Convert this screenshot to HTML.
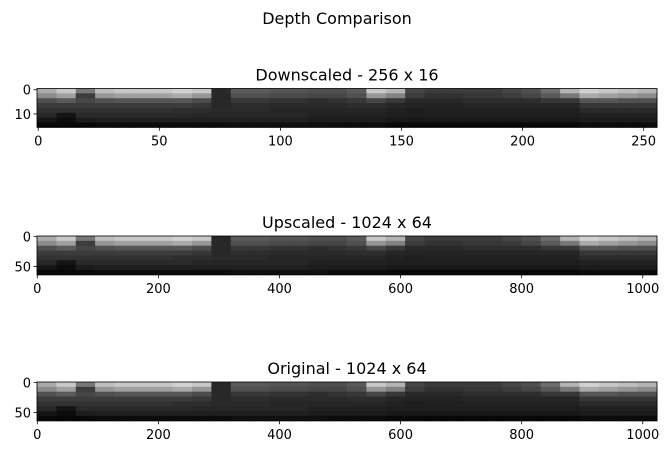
<!DOCTYPE html>
<html><head><meta charset="utf-8"><style>
body{margin:0;background:#fff;}
text{font-family:"DejaVu Sans","Liberation Sans",sans-serif;fill:#000;}
</style></head><body>
<svg id="fig" width="670" height="457" xmlns="http://www.w3.org/2000/svg">
<rect width="670" height="457" fill="#fff"/>
<text x="337" y="24" font-size="16" text-anchor="middle">Depth Comparison</text>
</svg>
<script>
const panelTitles = ["Downscaled - 256 x 16", "Upscaled - 1024 x 64", "Original - 1024 x 64"];
const panelWidths = [256, 1024, 1024];
const panelHeights = [16, 64, 64];
const xTicks1 = [0, 50, 100, 150, 200, 250];
const xTicks2 = [0, 200, 400, 600, 800, 1000];
const yTicks1 = [0, 10];
const yTicks2 = [0, 50];
const depthRows = [
[170,200,120,190,200,200,200,210,200,40,90,90,85,85,80,80,90,200,180,70,60,60,60,60,70,80,110,180,210,200,190,180],
[140,160,60,150,160,160,160,170,150,40,80,80,75,75,70,70,80,150,130,60,50,50,55,55,60,70,90,120,170,160,150,140],
[80,90,70,80,85,85,85,85,75,40,55,55,50,50,45,50,55,70,55,40,40,40,45,45,45,45,55,55,85,85,80,80],
[60,60,60,60,60,60,60,60,55,40,45,45,42,42,42,42,45,45,38,35,35,35,38,38,38,38,38,38,55,55,55,55],
[50,50,50,50,50,50,50,45,45,42,42,42,38,38,38,38,38,38,33,30,33,33,33,33,33,33,33,33,42,42,42,42],
[40,20,42,42,42,42,42,42,38,38,38,38,38,38,33,33,33,33,30,30,30,30,30,30,30,30,30,30,33,33,33,33],
[22,12,28,32,32,32,32,32,32,32,32,32,32,32,28,28,28,28,24,24,24,24,24,24,24,24,24,24,28,28,28,28],
[8,8,8,12,12,12,12,12,12,12,16,16,16,16,16,12,12,12,8,8,8,8,8,8,8,8,8,8,12,12,12,12]
];
const NS="http://www.w3.org/2000/svg";
const svg=document.getElementById('fig');
const axX0=37, axW=620, axH=38.75;
const axTops=[88.5,236,382];
function mk(t,a){const e=document.createElementNS(NS,t);for(const k in a)e.setAttribute(k,a[k]);return e;}
for(let p=0;p<3;p++){
  const W=panelWidths[p], H=panelHeights[p], top=axTops[p];
  const xs=v=>axX0+(v+0.5)/W*axW;
  const ys=v=>top+(v+0.5)/H*axH;
  const g=mk('g',{});
  
  
  svg.appendChild(g);
  const title=mk('text',{x:axX0+axW/2,y:top-8,'font-size':'16','text-anchor':'middle'});
  
  
  title.textContent=panelTitles[p];g.appendChild(title);
  const cols=depthRows[0].length, rows=depthRows.length;
  const cw=W/cols, rh=H/rows;
  for(let r=0;r<rows;r++)for(let c=0;c<cols;c++){
    const v=depthRows[r][c];
    const x1=xs(c*cw-0.5), x2=xs((c+1)*cw-0.5), y1=ys(r*rh-0.5), y2=ys((r+1)*rh-0.5);
    const cell=mk('rect',{x:x1,y:y1,width:x2-x1+0.5,height:y2-y1+0.5,fill:`rgb(${v},${v},${v})`});
    
    
    g.appendChild(cell);
  }
  const frame=mk('rect',{x:axX0,y:top,width:axW,height:axH,fill:'none',stroke:'#000','stroke-width':'0.8'});
  
  
  g.appendChild(frame);
  const xt=p===0?xTicks1:xTicks2, yt=p===0?yTicks1:yTicks2;
  xt.forEach(v=>{
    const x=xs(v);
    g.appendChild(mk('line',{x1:x,x2:x,y1:top+axH,y2:top+axH+3.5,stroke:'#000','stroke-width':'0.8'}));
    const t=mk('text',{x:x,y:top+axH+18,'font-size':'13','text-anchor':'middle'});
    
    
    t.textContent=v;g.appendChild(t);
  });
  yt.forEach(v=>{
    const y=ys(v);
    g.appendChild(mk('line',{x1:axX0-3.5,x2:axX0,y1:y,y2:y,stroke:'#000','stroke-width':'0.8'}));
    const t=mk('text',{x:axX0-6,y:y+5,'font-size':'13','text-anchor':'end'});
    
    
    t.textContent=v;g.appendChild(t);
  });
}
</script>
</body></html>
